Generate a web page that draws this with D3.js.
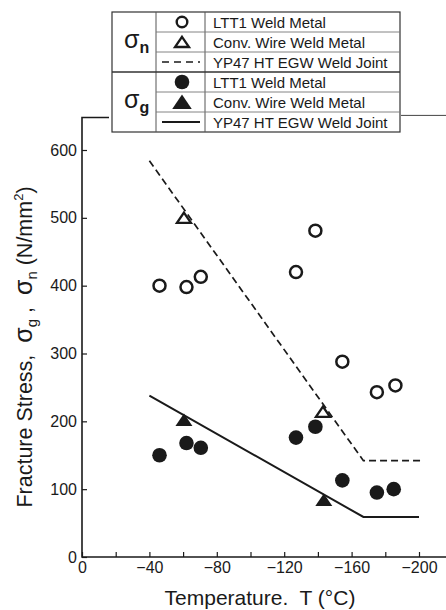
<!DOCTYPE html>
<html>
<head>
<meta charset="utf-8">
<script src="https://cdn.jsdelivr.net/npm/d3@7"></script>
<style>
  body { margin: 0; background: #fff; }
  text { font-family: "Liberation Sans", Arial, sans-serif; fill: #1a1a1a; white-space: pre; }
</style>
</head>
<body>
<div id="chart"></div>
<script>
const W = 446, H = 610;
const INK = "#1a1a1a";

// σn : nominal fracture stress
const ltt1NomTemp = [-46, -62, -70.5, -127, -138.5, -154.5, -175, -186];
const ltt1NomStress = [400, 398, 413, 420, 481, 288, 243, 253];
const convNomTemp = [-60.5, -143];
const convNomStress = [500, 214];
const ypNomTemp = [-40, -167, -202];
const ypNomStress = [584, 142, 142];

// σg : gross fracture stress
const ltt1GrossTemp = [-46, -62, -70.5, -127, -138.5, -154.5, -175, -185];
const ltt1GrossStress = [150, 168, 161, 176, 192, 113, 95, 100];
const convGrossTemp = [-60.5, -143.5];
const convGrossStress = [202, 84];
const ypGrossTemp = [-40, -167, -200];
const ypGrossStress = [238, 59, 59];

const xTicks = d3.range(0, -201, -20);
const xLabels = [0, -40, -80, -120, -160, -200];
const yTicks = [0, 100, 200, 300, 400, 500, 600];

const legendRows = [
  { sym: "openCircle", label: "LTT1 Weld Metal" },
  { sym: "openTri", label: "Conv. Wire Weld Metal" },
  { sym: "dash", label: "YP47 HT EGW Weld Joint" },
  { sym: "fillCircle", label: "LTT1 Weld Metal" },
  { sym: "fillTri", label: "Conv. Wire Weld Metal" },
  { sym: "solid", label: "YP47 HT EGW Weld Joint" },
];

const zip = (a, b) => a.map((t, i) => [t, b[i]]);

const svg = d3.select("#chart").append("svg")
  .attr("width", W).attr("height", H)
  .style("display", "block");

const x = d3.scaleLinear().domain([0, -200]).range([82, 419]);
const y = d3.scaleLinear().domain([0, 600]).range([557, 150]);

// frame: left axis, bottom axis, top stubs either side of the legend
svg.append("path")
  .attr("d", `M109,${y(648)}H${x(0)}V${y(0)}H${W}`)
  .attr("fill", "none").attr("stroke", INK).attr("stroke-width", 1.6);
svg.append("line")
  .attr("x1", 401).attr("x2", W).attr("y1", y(651)).attr("y2", y(651))
  .attr("stroke", "#444").attr("stroke-width", 1);

// x ticks point inward
const gx = svg.append("g").attr("transform", `translate(0,${y(0)})`);
gx.call(d3.axisBottom(x).tickValues(xTicks).tickSize(-5).tickFormat(""));
gx.call(g => g.select(".domain").remove());
gx.selectAll("line").attr("stroke", INK).attr("stroke-width", 1.2);

const gxl = svg.append("g").attr("transform", `translate(0,${y(0)})`);
gxl.call(d3.axisBottom(x).tickValues(xLabels).tickSize(0).tickPadding(5).tickFormat(d3.format("d")));
gxl.call(g => g.select(".domain").remove());
gxl.selectAll("text").attr("font-size", 16).attr("font-family", null).attr("fill", INK);

const gy = svg.append("g").attr("transform", `translate(${x(0)},0)`);
gy.call(d3.axisLeft(y).tickValues(yTicks).tickSize(-5).tickPadding(5));
gy.call(g => g.select(".domain").remove());
gy.selectAll("line").attr("stroke", INK).attr("stroke-width", 1.2);
gy.selectAll("text").attr("font-size", 16).attr("font-family", null).attr("fill", INK);

// axis titles
svg.append("text")
  .attr("x", 260).attr("y", 605)
  .attr("text-anchor", "middle").attr("font-size", 21)
  .text("Temperature.  T (°C)");

const yt = svg.append("text")
  .attr("transform", "translate(32,347) rotate(-90)")
  .attr("text-anchor", "middle").attr("font-size", 21.5);
yt.append("tspan").text("Fracture Stress,  ");
yt.append("tspan").attr("font-size", 25).text("σ");
yt.append("tspan").attr("font-size", 15).attr("dy", 5).text("g");
yt.append("tspan").attr("dy", -5).text(" ,  ");
yt.append("tspan").attr("font-size", 25).text("σ");
yt.append("tspan").attr("font-size", 15).attr("dy", 5).text("n");
yt.append("tspan").attr("dy", -5).text(" (N/mm");
yt.append("tspan").attr("font-size", 13).attr("dy", -9).text("2");
yt.append("tspan").attr("dy", 9).text(")");

// symbol paths
const triFill = "M0,-6.5L8.5,6L-8.5,6Z";
const triOpen = "M0,-5.2L7,5L-7,5Z";

const line = d3.line().x(d => x(d[0])).y(d => y(d[1]));

svg.append("path")
  .datum(zip(ypNomTemp, ypNomStress))
  .attr("d", line).attr("fill", "none")
  .attr("stroke", INK).attr("stroke-width", 1.7).attr("stroke-dasharray", "7,4");
svg.append("path")
  .datum(zip(ypGrossTemp, ypGrossStress))
  .attr("d", line).attr("fill", "none")
  .attr("stroke", INK).attr("stroke-width", 2);

svg.append("g").selectAll("circle")
  .data(zip(ltt1NomTemp, ltt1NomStress)).join("circle")
  .attr("cx", d => x(d[0])).attr("cy", d => y(d[1])).attr("r", 6)
  .attr("fill", "#fff").attr("stroke", INK).attr("stroke-width", 2.5);

svg.append("g").selectAll("circle")
  .data(zip(ltt1GrossTemp, ltt1GrossStress)).join("circle")
  .attr("cx", d => x(d[0])).attr("cy", d => y(d[1])).attr("r", 7.3)
  .attr("fill", INK);

svg.append("g").selectAll("path")
  .data(zip(convNomTemp, convNomStress)).join("path")
  .attr("transform", d => `translate(${x(d[0])},${y(d[1])})`)
  .attr("d", triOpen).attr("fill", "#fff")
  .attr("stroke", INK).attr("stroke-width", 2.3).attr("stroke-linejoin", "miter");

svg.append("g").selectAll("path")
  .data(zip(convGrossTemp, convGrossStress)).join("path")
  .attr("transform", d => `translate(${x(d[0])},${y(d[1])})`)
  .attr("d", triFill).attr("fill", INK);

// legend table
const L = { x0: 112, x1: 156, x2: 205, x3: 400, top: 12, row: 20 };
const lg = svg.append("g");
lg.append("rect")
  .attr("x", L.x0).attr("y", L.top)
  .attr("width", L.x3 - L.x0).attr("height", L.row * legendRows.length)
  .attr("fill", "#fff").attr("stroke", "#333").attr("stroke-width", 1.2);
lg.selectAll("line.v").data([L.x1, L.x2]).join("line")
  .attr("x1", d => d).attr("x2", d => d)
  .attr("y1", L.top).attr("y2", L.top + L.row * legendRows.length)
  .attr("stroke", "#555").attr("stroke-width", 1);
lg.selectAll("line.h").data(d3.range(1, legendRows.length)).join("line")
  .attr("x1", d => (d === 3 ? L.x0 : L.x1)).attr("x2", L.x3)
  .attr("y1", d => L.top + d * L.row).attr("y2", d => L.top + d * L.row)
  .attr("stroke", d => (d === 3 ? "#333" : "#777"))
  .attr("stroke-width", d => (d === 3 ? 1.3 : 0.9));

const symX = 182;
const rows = lg.selectAll("g.row").data(legendRows).join("g")
  .attr("transform", (d, i) => `translate(0,${L.top + i * L.row + L.row / 2})`);
rows.append("text")
  .attr("x", 213).attr("y", 5.5).attr("font-size", 15)
  .text(d => d.label);
rows.each(function (d) {
  const g = d3.select(this);
  if (d.sym === "openCircle") {
    g.append("circle").attr("cx", symX).attr("r", 5.3)
      .attr("fill", "#fff").attr("stroke", INK).attr("stroke-width", 2.4);
  } else if (d.sym === "fillCircle") {
    g.append("circle").attr("cx", symX).attr("r", 7.3).attr("fill", INK);
  } else if (d.sym === "openTri") {
    g.append("path").attr("transform", `translate(${symX},0)`)
      .attr("d", triOpen).attr("fill", "#fff").attr("stroke", INK).attr("stroke-width", 2.3);
  } else if (d.sym === "fillTri") {
    g.append("path").attr("transform", `translate(${symX},0) scale(1.15)`)
      .attr("d", triFill).attr("fill", INK);
  } else {
    g.append("line").attr("x1", 162).attr("x2", 200).attr("y1", 0).attr("y2", 0)
      .attr("stroke", INK).attr("stroke-width", d.sym === "solid" ? 2 : 1.7)
      .attr("stroke-dasharray", d.sym === "dash" ? "7,5" : null);
  }
});

// sigma group labels
const sig = [{ sub: "n", cy: L.top + 1.5 * L.row }, { sub: "g", cy: L.top + 4.5 * L.row }];
const sg = lg.selectAll("text.sig").data(sig).join("text")
  .attr("x", 124).attr("y", d => d.cy + 6).attr("font-size", 25);
sg.append("tspan").text("σ");
sg.append("tspan").attr("font-size", 16).attr("font-weight", "bold").attr("dy", 5).text(d => d.sub);
</script>
</body>
</html>
